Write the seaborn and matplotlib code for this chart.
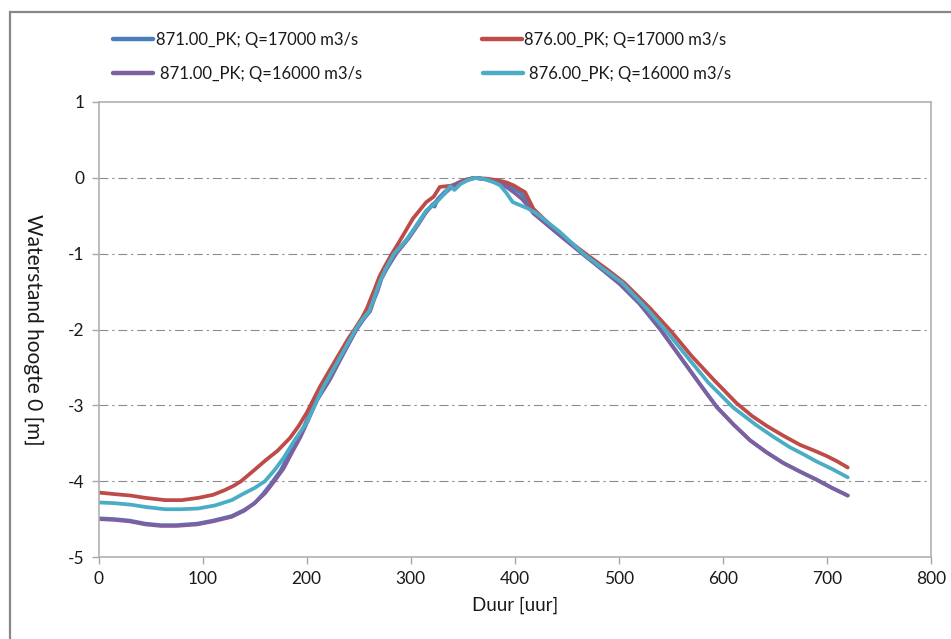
import numpy as np
import pandas as pd
import matplotlib
matplotlib.use("Agg")
import matplotlib.pyplot as plt
from matplotlib.lines import Line2D
from matplotlib.patches import Rectangle
import seaborn as sns

# ---------------- data ----------------
labels = ["871.00_PK; Q=17000 m3/s", "876.00_PK; Q=17000 m3/s",
          "871.00_PK; Q=16000 m3/s", "876.00_PK; Q=16000 m3/s"]
colors = ["#4a7ebb", "#be4b48", "#7d60a0", "#4bacc6"]

x_purple = [0, 15, 30, 45, 60, 75, 95, 110, 128, 140, 150, 160, 169, 178, 186, 194, 202, 210, 222, 235,
            248, 255, 261, 265, 268, 272, 277, 286, 298, 307, 315, 323, 330, 338, 346, 354, 362, 372, 382,
            392, 400, 407, 412, 418, 440, 465, 485, 501, 520, 540, 560, 580, 594, 610, 626, 642, 658, 675,
            690, 705, 720]
y_purple = [-4.50, -4.51, -4.53, -4.57, -4.59, -4.59, -4.57, -4.53, -4.47, -4.39, -4.29, -4.16, -4.00, -3.83,
            -3.62, -3.42, -3.18, -2.93, -2.67, -2.33, -2.00, -1.86, -1.76, -1.60, -1.50, -1.33, -1.20, -1.00,
            -0.80, -0.62, -0.45, -0.33, -0.24, -0.14, -0.08, -0.03, 0.00, -0.02, -0.06, -0.12, -0.20, -0.28,
            -0.36, -0.47, -0.72, -1.00, -1.22, -1.40, -1.66, -2.00, -2.38, -2.76, -3.02, -3.25, -3.46, -3.62,
            -3.76, -3.88, -3.98, -4.09, -4.19]

x_blue = [0, 15, 30, 45, 60, 75, 95, 110, 128, 140, 150, 158, 166, 175, 183, 192, 200, 209, 221, 234,
          247, 254, 260, 264, 267, 271, 276, 285, 297, 306, 314, 318, 321, 323, 326, 333, 340, 348, 354,
          362, 372, 382, 392, 398, 405, 410, 418, 440, 465, 485, 501, 520, 540, 560, 580, 594, 610, 626,
          642, 658, 675, 690, 705, 720]
y_blue = [-4.49, -4.50, -4.52, -4.56, -4.58, -4.58, -4.56, -4.52, -4.46, -4.38, -4.29, -4.17, -4.03, -3.86,
          -3.65, -3.45, -3.20, -2.95, -2.68, -2.34, -2.00, -1.86, -1.76, -1.60, -1.50, -1.33, -1.20, -1.00,
          -0.80, -0.62, -0.46, -0.40, -0.35, -0.38, -0.28, -0.18, -0.10, -0.05, -0.02, 0.00, -0.02, -0.05,
          -0.09, -0.13, -0.19, -0.26, -0.46, -0.72, -1.00, -1.22, -1.40, -1.66, -2.00, -2.38, -2.76, -3.02,
          -3.25, -3.46, -3.62, -3.76, -3.88, -3.98, -4.09, -4.19]

x_red = [0, 15, 31, 45, 64, 80, 96, 110, 121, 130, 137, 150, 161, 172, 184, 192, 200, 213, 228, 240,
         246, 253, 258, 262, 265, 270, 275, 282, 290, 302, 315, 322, 328, 341, 350, 360, 372, 383, 392,
         399, 405, 410, 414, 418, 443, 468, 488, 505, 530, 550, 570, 591, 613, 628, 642, 658, 674, 690,
         700, 710, 720]
y_red = [-4.15, -4.17, -4.19, -4.22, -4.25, -4.25, -4.22, -4.18, -4.12, -4.06, -4.00, -3.85, -3.72, -3.60,
         -3.43, -3.28, -3.10, -2.75, -2.40, -2.12, -2.00, -1.85, -1.72, -1.58, -1.48, -1.30, -1.17, -1.00,
         -0.82, -0.54, -0.32, -0.25, -0.12, -0.10, -0.04, 0.00, -0.01, -0.03, -0.06, -0.10, -0.15, -0.19,
         -0.30, -0.41, -0.74, -1.00, -1.20, -1.38, -1.72, -2.02, -2.35, -2.66, -2.97, -3.14, -3.27, -3.40,
         -3.52, -3.61, -3.67, -3.74, -3.82]

x_cyan = [0, 15, 31, 45, 64, 80, 96, 112, 128, 140, 150, 160, 170, 178, 188, 200, 216, 232, 247, 254,
          260, 264, 267, 271, 276, 284, 296, 306, 315, 325, 333, 338, 342, 348, 355, 362, 372, 380, 386,
          392, 398, 405, 412, 420, 443, 466, 485, 503, 528, 548, 568, 586, 610, 632, 648, 664, 678, 690,
          705, 720]
y_cyan = [-4.28, -4.29, -4.31, -4.34, -4.37, -4.37, -4.36, -4.32, -4.25, -4.16, -4.09, -4.00, -3.84, -3.69,
          -3.47, -3.23, -2.76, -2.37, -2.00, -1.86, -1.76, -1.62, -1.50, -1.35, -1.20, -1.00, -0.82, -0.62,
          -0.43, -0.32, -0.20, -0.11, -0.16, -0.08, -0.03, 0.00, -0.02, -0.06, -0.10, -0.20, -0.32, -0.36,
          -0.40, -0.46, -0.71, -1.00, -1.20, -1.38, -1.74, -2.06, -2.40, -2.70, -3.03, -3.26, -3.41, -3.55,
          -3.65, -3.74, -3.84, -3.95]

x_ticks = [0, 100, 200, 300, 400, 500, 600, 700, 800]
y_ticks = [-5, -4, -3, -2, -1, 0, 1]

# ---------------- build frame ----------------
series = [(labels[0], x_blue, y_blue), (labels[1], x_red, y_red),
          (labels[2], x_purple, y_purple), (labels[3], x_cyan, y_cyan)]
frames = []
for name, xs, ys in series:
    frames.append(pd.DataFrame({"Duur": xs, "Waterstand": ys, "Serie": name}))
df = pd.concat(frames, ignore_index=True)

sns.set_style("white")
plt.rcParams["font.family"] = ["Lato", "DejaVu Sans"]

fig = plt.figure(figsize=(9.51, 6.39), dpi=100)
ax = fig.add_axes([98.5 / 951, 1 - 557 / 639, (931 - 98.5) / 951, (557 - 102) / 639])

sns.lineplot(data=df, x="Duur", y="Waterstand", hue="Serie", hue_order=labels,
             palette=dict(zip(labels, colors)), sort=False, estimator=None,
             linewidth=2.7, legend=False, ax=ax)

ax.set_xlim(0, 800)
ax.set_ylim(-5, 1)
ax.set_xticks(x_ticks)
ax.set_yticks(y_ticks)
ax.set_xticklabels([str(v) for v in x_ticks], fontsize=12.5, color="#1a1a1a")
ax.set_yticklabels([str(v) for v in y_ticks], fontsize=12.5, color="#1a1a1a")
ax.tick_params(axis="both", direction="out", length=5, width=1, color="#a6a6a6", pad=5)
ax.tick_params(axis="both", which="both", bottom=True, left=True)

for y in y_ticks[1:-1]:
    ax.axhline(y, color="#8c8c8c", linewidth=0.8, linestyle=(0, (8, 3.5, 2, 3.5)), zorder=0)
for s in ax.spines.values():
    s.set_visible(True)
    s.set_color("#b0b0b0")
    s.set_linewidth(1.2)

ax.set_xlabel("Duur [uur]", fontsize=13.5, color="#1a1a1a", labelpad=7)
ax.set_ylabel("Waterstand hoogte 0 [m]", fontsize=15, color="#1a1a1a", rotation=270,
              va="center", ha="center")
ax.yaxis.set_label_coords(-(98.5 - 33) / (931 - 98.5), 0.5)

# legend entries placed like the original (two columns)
pos = [(113, 40), (482, 40), (113, 74), (483, 74)]
pads = [0.15, 0.15, 0.45, 0.35]
for (name, _, _), col, (px, py), pad in zip(series, colors, pos, pads):
    h = Line2D([], [], color=col, linewidth=3.2)
    fig.legend(handles=[h], labels=[name], loc="center left",
               bbox_to_anchor=(px / 951, 1 - py / 639), frameon=False,
               borderpad=0, borderaxespad=0, handlelength=2.4, handletextpad=pad,
               fontsize=12, labelcolor="#1a1a1a")

# outer chart frame (cropped at right/bottom)
fig.patches.append(Rectangle((10 / 951, -0.2), 1.2, 1 - 12 / 639 + 0.2,
                             transform=fig.transFigure, fill=False,
                             edgecolor="#888888", linewidth=1.6))

fig.savefig("out.png", dpi=100)
